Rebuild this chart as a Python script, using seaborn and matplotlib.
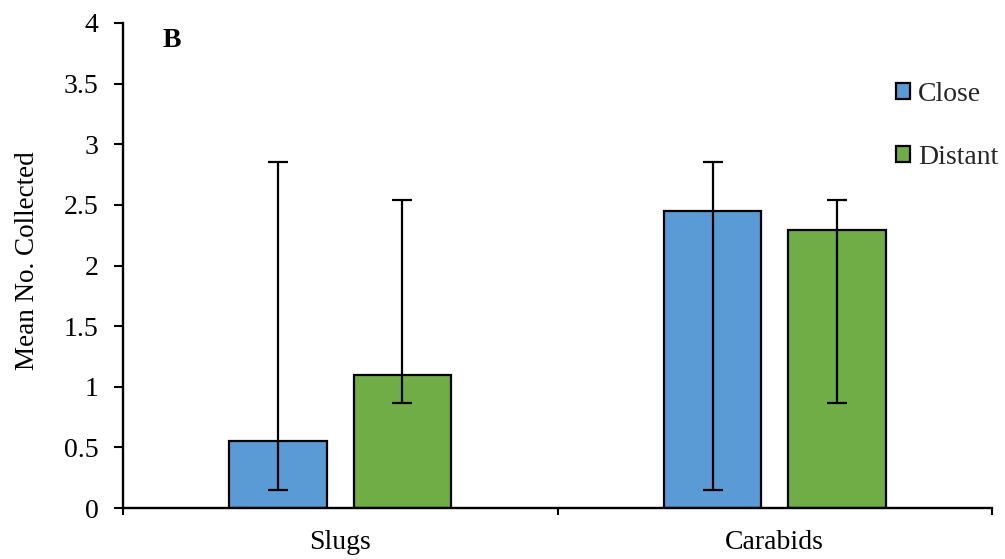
import matplotlib
matplotlib.use("Agg")
import matplotlib.pyplot as plt
import seaborn as sns
import pandas as pd
import numpy as np
from matplotlib.patches import Patch
from matplotlib.container import BarContainer
from matplotlib.ticker import FixedLocator, FuncFormatter

# ---- data ----
categories = ["Slugs", "Carabids"]
groups = ["Close", "Distant"]
close_means = [0.55, 2.45]
distant_means = [1.10, 2.29]
close_lower = [0.15, 0.15]
close_upper = [2.85, 2.85]
distant_lower = [0.87, 0.87]
distant_upper = [2.54, 2.54]
colors = ["#5B9BD5", "#70AD47"]

df = pd.DataFrame({
    "Category": categories * 2,
    "Group": [groups[0]] * 2 + [groups[1]] * 2,
    "Mean": close_means + distant_means,
})

sns.set_theme(style="white")
plt.rcParams["font.family"] = ["Liberation Serif", "DejaVu Serif"]

fig = plt.figure(figsize=(10.05, 5.59), dpi=100)
ax = fig.add_axes([123/1005, 1 - 508/559, (992-123)/1005, (508-23)/559])

sns.barplot(data=df, x="Category", y="Mean", hue="Group", order=categories,
            hue_order=groups, palette=colors, width=0.573, gap=0.213,
            errorbar=None, edgecolor="black", linewidth=1.6, ax=ax, legend=False,
            saturation=1)

# asymmetric error bars drawn at the bar centres
lows = {"Close": close_lower, "Distant": distant_lower}
highs = {"Close": close_upper, "Distant": distant_upper}
means = {"Close": close_means, "Distant": distant_means}
bar_conts = [c for c in ax.containers if isinstance(c, BarContainer)]
for gi, cont in enumerate(bar_conts):
    g = groups[gi]
    xs = [p.get_x() + p.get_width() / 2 for p in cont]
    m = np.array(means[g])
    lo = m - np.array(lows[g])
    hi = np.array(highs[g]) - m
    ax.errorbar(xs, m, yerr=[lo, hi], fmt="none", ecolor="black",
                elinewidth=1.6, capsize=7.5, capthick=1.6, zorder=5)

ax.set_xlim(-0.5, 1.5)
ax.set_ylim(0, 4)
ax.set_yticks(np.arange(0, 4.01, 0.5))
ax.yaxis.set_major_formatter(FuncFormatter(lambda v, p: f"{v:g}"))

for s in ["top", "right"]:
    ax.spines[s].set_visible(False)
for s in ["left", "bottom"]:
    ax.spines[s].set_color("black")
    ax.spines[s].set_linewidth(1.7)

ax.tick_params(axis="y", which="major", direction="out", length=6.5, width=1.5,
               color="black", labelsize=20, pad=11, left=True, labelcolor="black")
ax.tick_params(axis="x", which="major", length=0, labelsize=20, pad=16,
               labelcolor="black")
ax.xaxis.set_minor_locator(FixedLocator([-0.5, 0.5, 1.5]))
ax.tick_params(axis="x", which="minor", direction="out", length=5, width=1.5,
               color="black", bottom=True)

ax.set_xlabel("")
ax.set_ylabel("Mean No. Collected", fontsize=19.5, color="black")
ax.yaxis.set_label_coords(-0.095, 0.511)

ax.text(0.046, 0.9505, "B", transform=ax.transAxes, fontsize=20,
        fontweight="bold", ha="left", va="baseline", color="black")

handles = [Patch(facecolor=c, edgecolor="black", linewidth=1.6, label=g)
           for c, g in zip(colors, groups)]
fig.legend(handles=handles, loc="upper left",
           bbox_to_anchor=(896/1005, 1 - 82/559), frameon=False,
           fontsize=20, handlelength=0.5, handleheight=0.5,
           handletextpad=0.3, labelspacing=1.35, borderpad=0, borderaxespad=0)

fig.savefig("out.png", dpi=100)
